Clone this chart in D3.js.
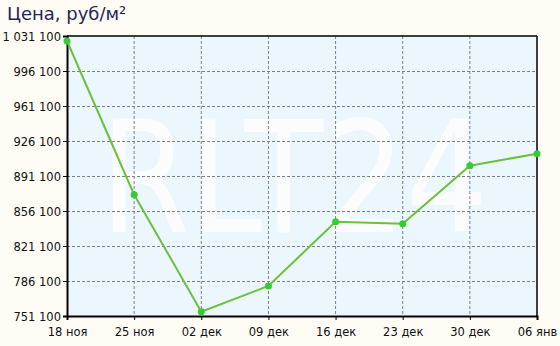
<!DOCTYPE html>
<html>
<head>
<meta charset="utf-8">
<script src="https://cdn.jsdelivr.net/npm/d3@7"></script>
<style>
  body { margin: 0; background: #fffcf5; }
  svg { display: block; font-family: "DejaVu Sans", Verdana, sans-serif; }
</style>
</head>
<body>
<svg width="560" height="346"></svg>
<script>
var dates = ["18 ноя", "25 ноя", "02 дек", "09 дек", "16 дек", "23 дек", "30 дек", "06 янв"];
var prices = [1026100, 872400, 755400, 781100, 845400, 843400, 901400, 913400];
var yTicks = [751100, 786100, 821100, 856100, 891100, 926100, 961100, 996100, 1031100];

var svg = d3.select("svg"),
    width = +svg.attr("width"),
    height = +svg.attr("height");
var margin = {top: 36, right: 23, bottom: 30, left: 67};
var w = width - margin.left - margin.right,
    h = height - margin.top - margin.bottom;

var fmt = function(v) { return d3.format(",")(v).replace(/,/g, " "); };

var x = d3.scalePoint().domain(dates).range([0, w]);
var y = d3.scaleLinear().domain([751100, 1031100]).range([h, 0]);

svg.append("text")
  .attr("x", 7).attr("y", 20)
  .attr("fill", "#25255a")
  .style("font-size", "18px")
  .text("Цена, руб/м²");

var g = svg.append("g").attr("transform", "translate(" + margin.left + "," + margin.top + ")");

g.append("rect").attr("width", w).attr("height", h).attr("fill", "#ebf6fd");

// watermark, squeezed horizontally
g.append("text")
  .attr("transform", "translate(33,196) scale(0.83,1)")
  .attr("fill", "#ffffff").attr("opacity", 0.75)
  .style("font-size", "156px")
  .style("font-family", "'DejaVu Sans', sans-serif")
  .text("RLT24");

// grid
g.selectAll(".gx").data(dates.slice(1, -1)).join("line")
  .attr("x1", d => x(d)).attr("x2", d => x(d))
  .attr("y1", 0).attr("y2", h)
  .attr("stroke", "#808080").attr("stroke-dasharray", "3,2");
g.selectAll(".gy").data(yTicks.slice(1, -1)).join("line")
  .attr("x1", 0).attr("x2", w)
  .attr("y1", d => Math.round(y(d)) + 0.5).attr("y2", d => Math.round(y(d)) + 0.5)
  .attr("stroke", "#808080").attr("stroke-dasharray", "3,2");

// axes
var xAxis = g.append("g").attr("transform", "translate(0," + h + ")")
  .call(d3.axisBottom(x).tickSize(4).tickPadding(6));
var yAxis = g.append("g")
  .call(d3.axisLeft(y).tickValues(yTicks).tickFormat(fmt).tickSize(4).tickPadding(2));
[xAxis, yAxis].forEach(function(a) {
  a.select(".domain").attr("stroke", "#000").attr("stroke-width", 2);
  a.selectAll("line").attr("stroke", "#000");
  a.selectAll("text").attr("fill", "#111").style("font-size", "11.5px")
    .style("font-family", "'DejaVu Sans', sans-serif");
});
yAxis.selectAll("text").attr("dy", "0.4em");
xAxis.selectAll("text").attr("dy", "0.9em");

g.append("line").attr("x1", 0).attr("x2", w).attr("y1", 0).attr("y2", 0)
  .attr("stroke", "#000").attr("stroke-width", 1.5);
g.append("line").attr("x1", w).attr("x2", w).attr("y1", 0).attr("y2", h)
  .attr("stroke", "#000").attr("stroke-width", 1.5);

var line = d3.line().x((d, i) => x(dates[i])).y(d => y(d));
g.append("path").datum(prices)
  .attr("d", line)
  .attr("fill", "none")
  .attr("stroke", "#6cc03c")
  .attr("stroke-width", 2);

g.selectAll(".pt").data(prices).join("circle")
  .attr("cx", (d, i) => x(dates[i]))
  .attr("cy", d => y(d))
  .attr("r", 3.5)
  .attr("fill", "#33cc33");
</script>
</body>
</html>
